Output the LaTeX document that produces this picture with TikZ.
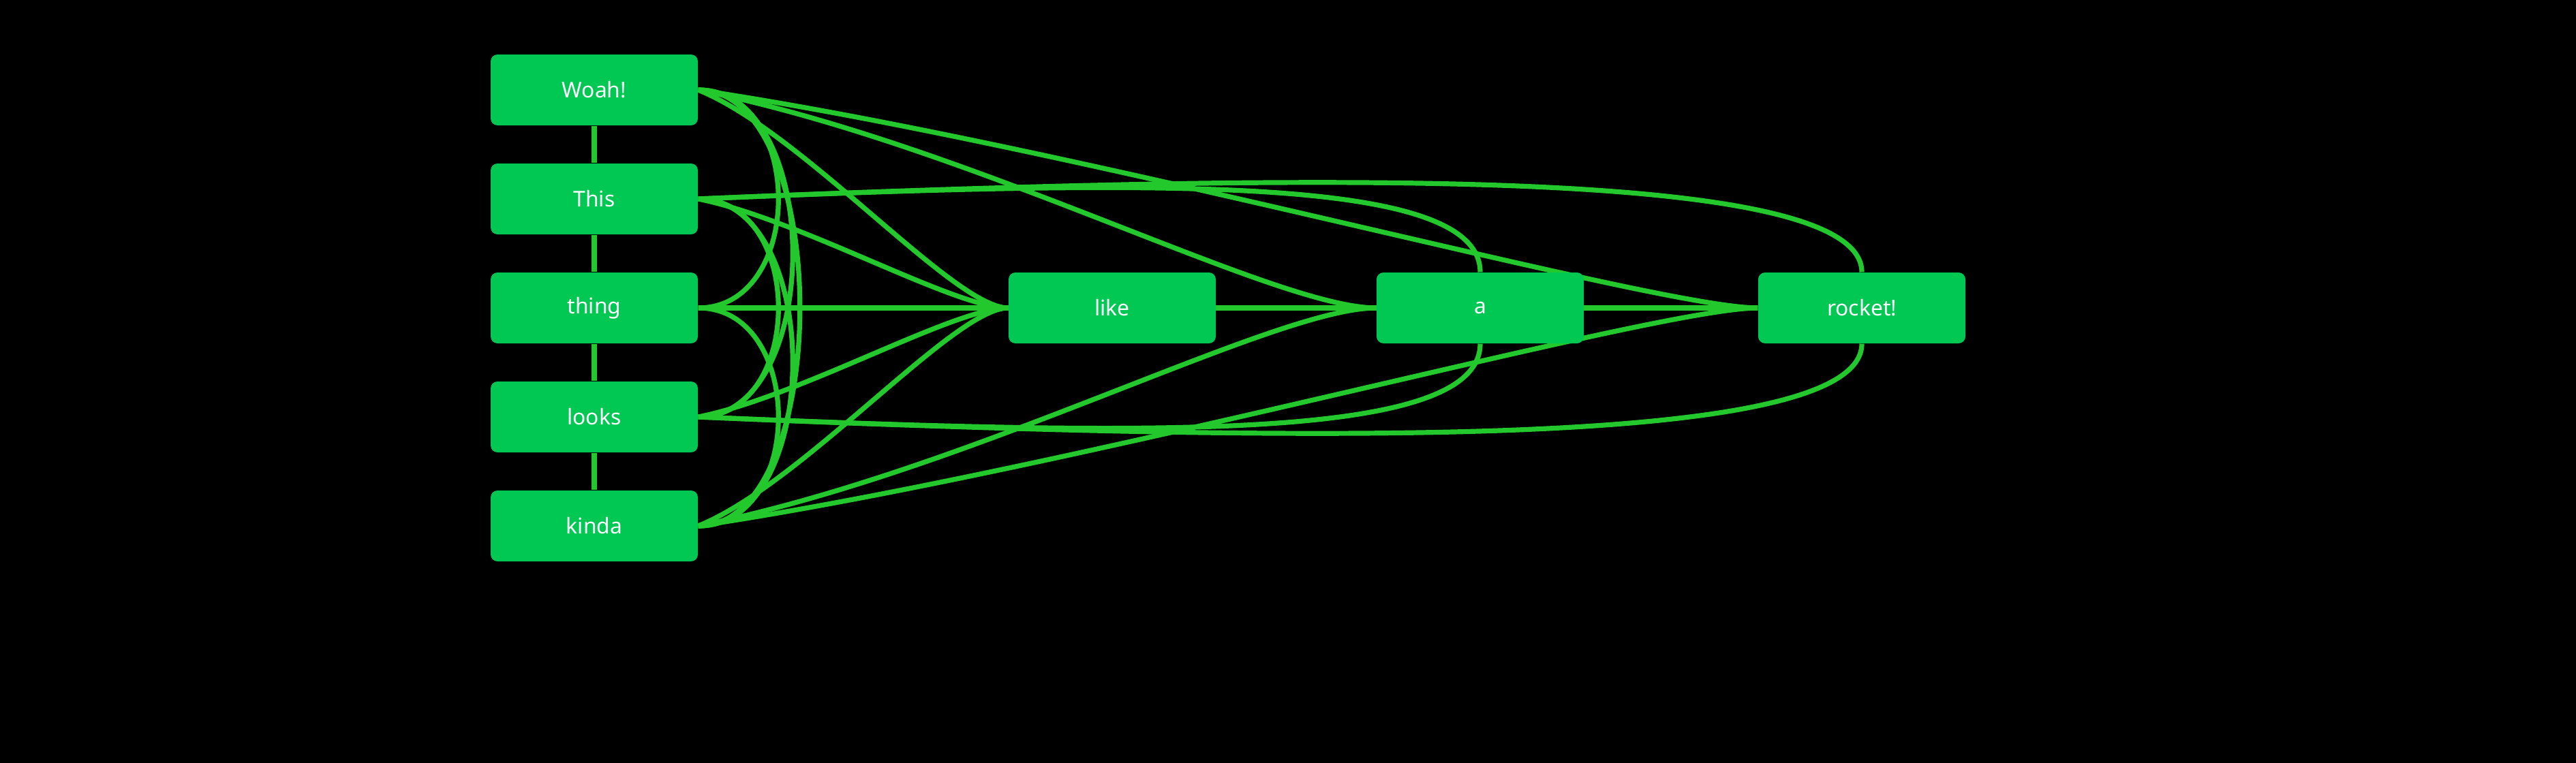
\documentclass[tikz,border=0pt]{standalone}
\usepackage{fontspec}
\setmainfont{Noto Sans}
\usepackage{tikz}
\usetikzlibrary{arrows.meta}
\definecolor{wordgreen}{RGB}{0,200,83}
\definecolor{linkgreen}{RGB}{34,200,44}
\pgfdeclarelayer{backdrop}
\pgfdeclarelayer{links}
\pgfsetlayers{backdrop,links,main}
\tikzset{
  wordbox/.style={shape=rectangle,fill=wordgreen,rounded corners=0.05in,minimum height=0.52in,minimum width=1.52in,inner sep=0pt,align=center,text=white,font=\fontsize{11.5}{14}\selectfont},
  link/.style={draw=linkgreen,line width=2.6pt}
}
\begin{document}
\begin{tikzpicture}

\useasboundingbox (0in,0in) rectangle (18.9in,-5.6in);
\begin{pgfonlayer}{backdrop}
\fill [black] (0in,0in) rectangle (18.9in,-5.6in);
\end{pgfonlayer}

\path (4.36in,-0.66in) node [wordbox] (woah) {Woah!};
\path (4.36in,-1.46in) node [wordbox] (this) {This};
\path (4.36in,-2.26in) node [wordbox] (thing) {thing};
\path (4.36in,-3.06in) node [wordbox] (looks) {looks};
\path (4.36in,-3.86in) node [wordbox] (kinda) {kinda};
\path (8.16in,-2.26in) node [wordbox] (like) {like};
\path (10.86in,-2.26in) node [wordbox] (a) {a};
\path (13.66in,-2.26in) node [wordbox] (rocket) {rocket!};

\begin{pgfonlayer}{links}
\draw [link] (woah.south) -- (this.north);
\draw [link] (this.south) -- (thing.north);
\draw [link] (thing.south) -- (looks.north);
\draw [link] (looks.south) -- (kinda.north);

\draw [link] (woah.east) .. controls +(0.785in,0in) and +(0.785in,0in) .. (thing.east);
\draw [link] (this.east) .. controls +(0.785in,0in) and +(0.785in,0in) .. (looks.east);
\draw [link] (thing.east) .. controls +(0.785in,0in) and +(0.785in,0in) .. (kinda.east);
\draw [link] (woah.east) .. controls +(0.925in,0in) and +(0.925in,0in) .. (looks.east);
\draw [link] (this.east) .. controls +(0.925in,0in) and +(0.925in,0in) .. (kinda.east);
\draw [link] (woah.east) .. controls +(0.995in,0in) and +(0.995in,0in) .. (kinda.east);

\draw [link] (woah.east) .. controls +(0.775in,-0.315in) and +(-0.4in,0in) .. (like.west);
\draw [link] (this.east) .. controls +(0.75in,-0.15in) and +(-0.4in,0in) .. (like.west);
\draw [link] (thing.east) -- (like.west);
\draw [link] (looks.east) .. controls +(0.75in,0.15in) and +(-0.4in,0in) .. (like.west);
\draw [link] (kinda.east) .. controls +(0.775in,0.315in) and +(-0.4in,0in) .. (like.west);

\draw [link] (woah.east) .. controls +(2in,-0.4in) and +(-0.75in,0in) .. (a.west);
\draw [link] (this.east) .. controls +(3.5in,0.15in) and +(0in,0.7in) .. (a.north);
\draw [link] (thing.east) -- (a.west);
\draw [link] (looks.east) .. controls +(3.5in,-0.15in) and +(0in,-0.7in) .. (a.south);
\draw [link] (kinda.east) .. controls +(2in,0.4in) and +(-0.75in,0in) .. (a.west);

\draw [link] (woah.east) .. controls +(2.75in,-0.41in) and +(-0.75in,0in) .. (rocket.west);
\draw [link] (this.east) .. controls +(4.88in,0.21in) and +(0in,0.75in) .. (rocket.north);
\draw [link] (thing.east) -- (rocket.west);
\draw [link] (looks.east) .. controls +(4.88in,-0.21in) and +(0in,-0.75in) .. (rocket.south);
\draw [link] (kinda.east) .. controls +(2.75in,0.41in) and +(-0.75in,0in) .. (rocket.west);

\draw [link] (like.east) -- (a.west);
\draw [link] (like.east) -- (rocket.west);
\draw [link] (a.east) -- (rocket.west);
\end{pgfonlayer}

\end{tikzpicture}
\end{document}
